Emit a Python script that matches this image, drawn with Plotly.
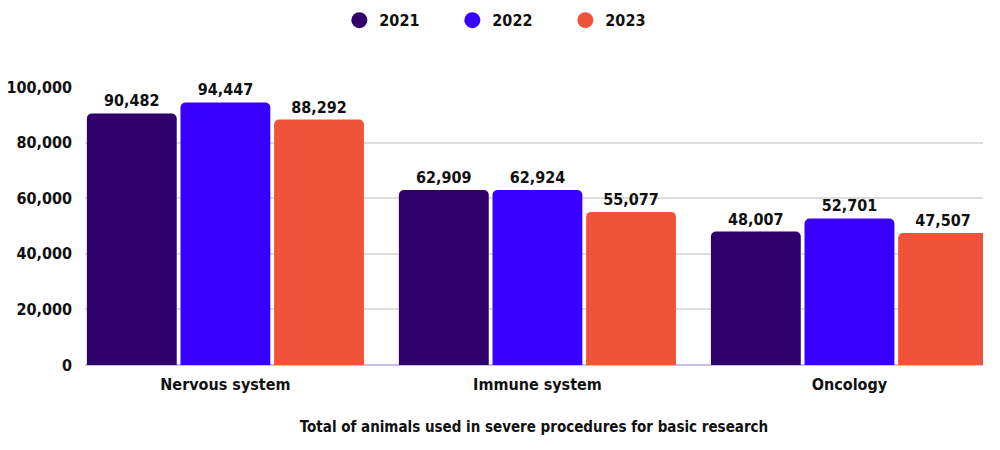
import plotly.graph_objects as go

categories = ["Nervous system", "Immune system", "Oncology"]
years = ["2021", "2022", "2023"]
values_2021 = [90482, 62909, 48007]
values_2022 = [94447, 62924, 52701]
values_2023 = [88292, 55077, 47507]
colors = ["#30006a", "#3800ff", "#ef543a"]

FONT = "DejaVu Sans Condensed, Liberation Sans Narrow, Arial Narrow, sans-serif"

fig = go.Figure()
for yr, vals, col in zip(years, [values_2021, values_2022, values_2023], colors):
    fig.add_trace(go.Bar(
        x=categories, y=vals, name=yr, marker=dict(color=col, line=dict(width=0)),
        texttemplate="%{y:,}", textposition="outside", cliponaxis=False,
        textfont=dict(size=16, color="#111", family=FONT, weight="bold"),
        showlegend=False,
    ))
for yr, col in zip(years, colors):
    fig.add_trace(go.Scatter(
        x=[None], y=[None], mode="markers", name=yr,
        marker=dict(symbol="circle", size=22, color=col),
    ))

fig.update_layout(
    width=1000, height=450,
    margin=dict(l=85, r=17, t=87, b=85, autoexpand=False),
    paper_bgcolor="white", plot_bgcolor="white",
    font=dict(family=FONT, size=15, color="#111", weight="bold"),
    barmode="group", bargap=0.1, bargroupgap=0.04, barcornerradius=5,
    legend=dict(orientation="h", x=0.472, xanchor="center", yref="container",
                y=0.955, yanchor="middle", font=dict(size=16), itemwidth=30,
                entrywidth=68, entrywidthmode="pixels", tracegroupgap=0),
    xaxis=dict(range=[-0.45, 2.428], showgrid=False, zeroline=False, automargin=False,
               ticks="", tickfont=dict(size=16), ticklabelstandoff=8,
               title=dict(text="Total of animals used in severe procedures for basic research",
                          font=dict(size=15), standoff=28)),
    yaxis=dict(range=[0, 100000], tickvals=[0, 20000, 40000, 60000, 80000, 100000],
               tickformat=",", showgrid=True, gridcolor="#dddddd", gridwidth=1.5,
               zeroline=True, zerolinecolor="#c9c0e6", zerolinewidth=1.5, automargin=False,
               ticklabelstandoff=12, tickfont=dict(size=16)),
)

fig.write_html("out.html")
